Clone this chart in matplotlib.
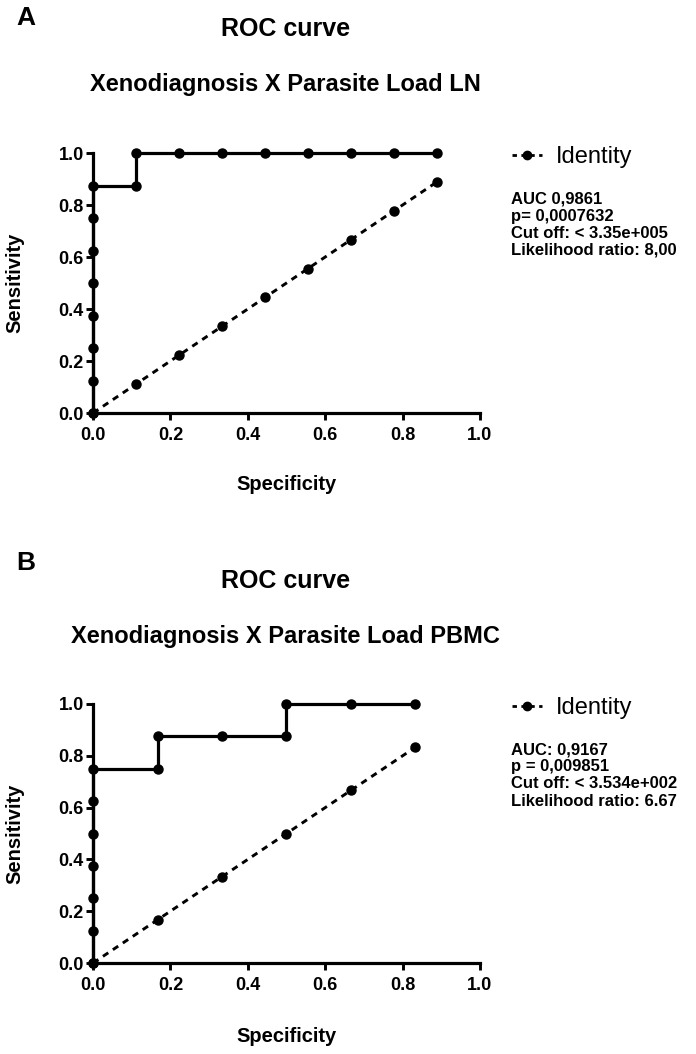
import matplotlib
matplotlib.use('agg')
import matplotlib.pyplot as plt
from matplotlib.lines import Line2D

plt.rcParams['font.family'] = ['Liberation Sans', 'DejaVu Sans']

# Panel A: Xenodiagnosis X Parasite Load LN
spec_a = [0, 0, 0, 0, 0, 0, 0, 0, 0.1111, 0.1111, 0.2222, 0.3333, 0.4444, 0.5556, 0.6667, 0.7778, 0.8889]
sens_a = [0, 0.125, 0.25, 0.375, 0.5, 0.625, 0.75, 0.875, 0.875, 1.0, 1.0, 1.0, 1.0, 1.0, 1.0, 1.0, 1.0]
ident_a = [0, 0.1111, 0.2222, 0.3333, 0.4444, 0.5556, 0.6667, 0.7778, 0.8889]
stats_a = ['AUC 0,9861', 'p= 0,0007632', 'Cut off: < 3.35e+005', 'Likelihood ratio: 8,00']

# Panel B: Xenodiagnosis X Parasite Load PBMC
spec_b = [0, 0, 0, 0, 0, 0, 0, 0.1667, 0.1667, 0.3333, 0.5, 0.5, 0.6667, 0.8333]
sens_b = [0, 0.125, 0.25, 0.375, 0.5, 0.625, 0.75, 0.75, 0.875, 0.875, 0.875, 1.0, 1.0, 1.0]
ident_b = [0, 0.1667, 0.3333, 0.5, 0.6667, 0.8333]
stats_b = ['AUC: 0,9167', 'p = 0,009851', 'Cut off: < 3.534e+002', 'Likelihood ratio: 6.67']

ticks = [0.0, 0.2, 0.4, 0.6, 0.8, 1.0]

W, H = 696, 1054
fig = plt.figure(figsize=(W / 100, H / 100), dpi=100)


def px(x, y):
    return x / W, 1 - y / H


def panel(letter, subtitle, spec, sens, ident, stats, top, bottom, y_letter, y_title,
          y_sub, xlab_y):
    ax = fig.add_axes([93 / W, 1 - bottom / H, 387 / W, (bottom - top) / H])
    ax.plot(spec, sens, color='black', lw=2.3, marker='o', ms=6.5, clip_on=False, zorder=3)
    ax.plot(ident, ident, color='black', lw=2.1, ls=(0, (2.2, 1.9)), marker='o', ms=6.5,
            clip_on=False, zorder=3)
    ax.set_xlim(0, 1)
    ax.set_ylim(0, 1)
    ax.set_xticks(ticks)
    ax.set_yticks(ticks)
    ax.set_xticklabels(['%.1f' % t for t in ticks])
    ax.set_yticklabels(['%.1f' % t for t in ticks])
    for s in ['top', 'right']:
        ax.spines[s].set_visible(False)
    for s in ['left', 'bottom']:
        ax.spines[s].set_linewidth(2.3)
    ax.tick_params(width=2.1, length=5, labelsize=13)
    ax.tick_params(axis='x', pad=5)
    ax.tick_params(axis='y', pad=1.5)
    for lab in ax.get_xticklabels() + ax.get_yticklabels():
        lab.set_fontweight('bold')
    ax.set_xlabel('Specificity', fontsize=14.5, fontweight='bold', va='center')
    ax.set_ylabel('Sensitivity', fontsize=14.5, fontweight='bold', va='center')
    ax.xaxis.set_label_coords(0.5, (bottom - xlab_y) / (bottom - top))
    ax.yaxis.set_label_coords((14.5 - 93) / 387, 0.5)

    fig.text(*px(26, y_letter), letter, fontsize=19, fontweight='bold',
             ha='center', va='center')
    fig.text(*px(286, y_title), 'ROC curve', fontsize=18, fontweight='bold',
             ha='center', va='center')
    fig.text(*px(285, y_sub), subtitle, fontsize=17, fontweight='bold',
             ha='center', va='center')

    handle = Line2D([], [], color='black', lw=2, ls=(0, (1.6, 1.6)), marker='o', ms=6)
    fig.legend([handle], ['Identity'], loc='center left',
               bbox_to_anchor=px(503, top + 4), frameon=False, fontsize=17,
               handlelength=1.25, handletextpad=0.6, borderaxespad=0)
    for i, line in enumerate(stats):
        fig.text(*px(511, top + 46 + 17 * i), line, fontsize=12, fontweight='bold',
                 va='center')


panel('A', 'Xenodiagnosis X Parasite Load LN', spec_a, sens_a, ident_a, stats_a,
      153, 413, 18, 29.5, 85, 485)
panel('B', 'Xenodiagnosis X Parasite Load PBMC', spec_b, sens_b, ident_b, stats_b,
      704, 963, 563, 581.5, 637, 1037)

fig.savefig('out.png', dpi=100)
